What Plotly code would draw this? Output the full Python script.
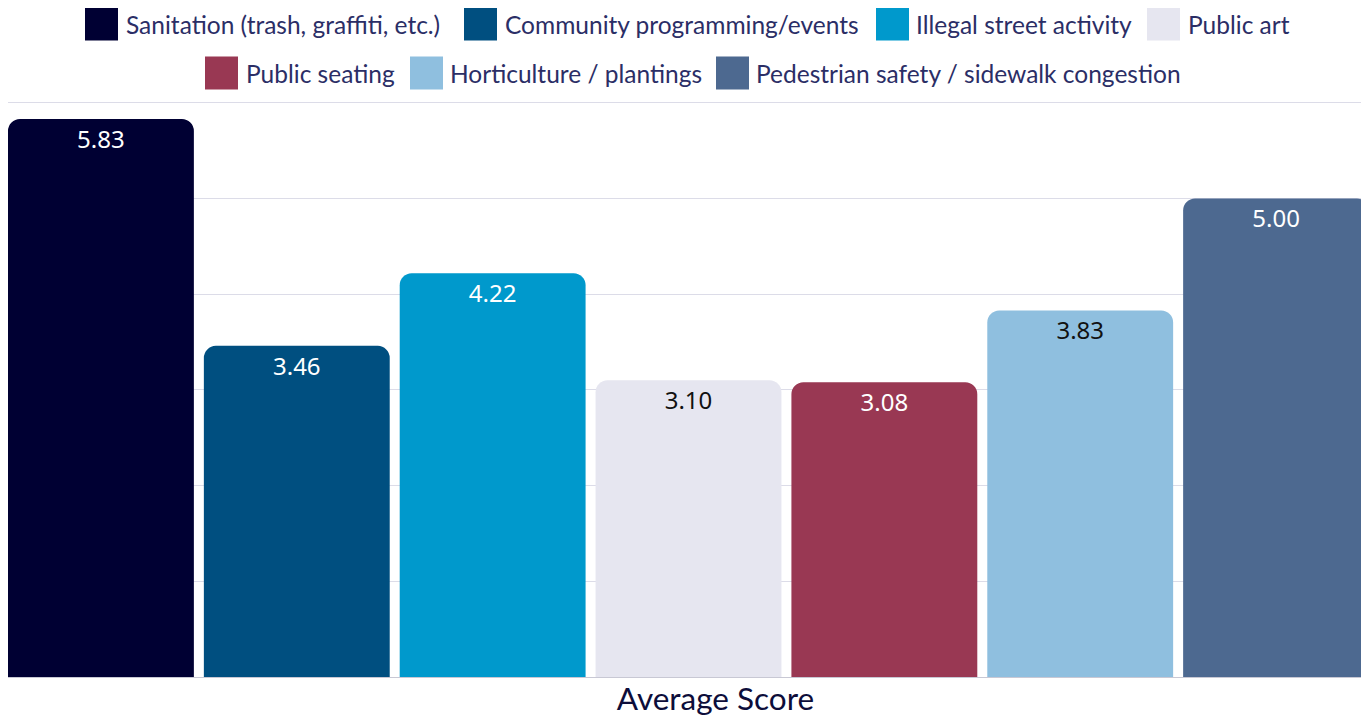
import plotly.graph_objects as go

categories = ["Average Score"]
series_names = [
    "Sanitation (trash, graffiti, etc.)",
    "Community programming/events",
    "Illegal street activity",
    "Public art",
    "Public seating",
    "Horticulture / plantings",
    "Pedestrian safety / sidewalk congestion",
]
series_values = [5.83, 3.46, 4.22, 3.10, 3.08, 3.83, 5.00]
series_colors = ["#000033", "#004f80", "#0099cc", "#e6e6f0", "#993853", "#8fbfdf", "#4d6990"]
label_colors = ["#ffffff", "#ffffff", "#ffffff", "#111111", "#ffffff", "#111111", "#ffffff"]

W, H = 1361, 709
OFF = 8  # page body margin
YMAX = 6.05
ML, MR, MT, MB = 0, 0, 90, 40
PW, PH = W - ML - MR, H - MT - MB
GG = 0.051
N = len(series_names)
EDGE = GG / 2 / N

def px(x):
    return (x - OFF - ML) / PW

def py(y):
    return (H - MB - (y - OFF)) / PH

fig = go.Figure()
for i, (name, val, col, lc) in enumerate(zip(series_names, series_values, series_colors, label_colors)):
    fig.add_trace(go.Bar(
        name=name, x=[0], y=[val], offsetgroup=str(i),
        marker=dict(color=col, cornerradius=12, line=dict(width=0)),
        showlegend=False, hoverinfo="name+y",
    ))
    fig.add_trace(go.Bar(
        name=name, x=[0], y=[val], offsetgroup=str(i),
        marker=dict(color="rgba(0,0,0,0)", line=dict(width=0)),
        text=[f"{val:.2f}"], textposition="inside", insidetextanchor="end",
        textfont=dict(family="Noto Sans", size=24, color=lc),
        showlegend=False, hoverinfo="skip",
    ))

# custom legend (swatch left px, text left px, row center px) in page pixels
legend_layout = [
    (85, 124, 24), (464, 503, 24), (876, 914, 24), (1147, 1186, 24),
    (205, 244, 73), (410, 448, 73), (716, 754, 73),
]
shapes = []
annotations = []
for name, col, (sx, tx, cy) in zip(series_names, series_colors, legend_layout):
    shapes.append(dict(type="rect", xref="paper", yref="paper",
                       x0=px(sx), x1=px(sx + 33), y0=py(cy + 16.5), y1=py(cy - 16.5),
                       fillcolor=col, line=dict(width=0), layer="above"))
    annotations.append(dict(text=name, xref="paper", yref="paper", x=px(tx), y=py(cy),
                            xanchor="left", yanchor="middle", showarrow=False,
                            font=dict(family="Lato", size=24.5, color="#2b2e66")))

fig.update_layout(
    width=W, height=H,
    margin=dict(l=ML, r=MR, t=MT, b=MB, autoexpand=False),
    paper_bgcolor="white", plot_bgcolor="white",
    barmode="group", bargap=0, bargroupgap=GG,
    shapes=shapes, annotations=annotations,
    xaxis=dict(showgrid=False, showline=False, ticks="", ticklabelshift=27,
               range=[-0.5 + EDGE, 0.5 - EDGE], automargin=False,
               tickmode="array", tickvals=[0], ticktext=categories,
               tickfont=dict(family="Lato", size=31.5, color="#0d0d3a")),
    yaxis=dict(range=[0, YMAX], dtick=1, showgrid=True, gridcolor="#dcdce8", gridwidth=1,
               showticklabels=False, zeroline=True, zerolinecolor="#c8c8d4", zerolinewidth=1,
               showline=False, ticks="", automargin=False),
)

fig.write_html("out.html")
